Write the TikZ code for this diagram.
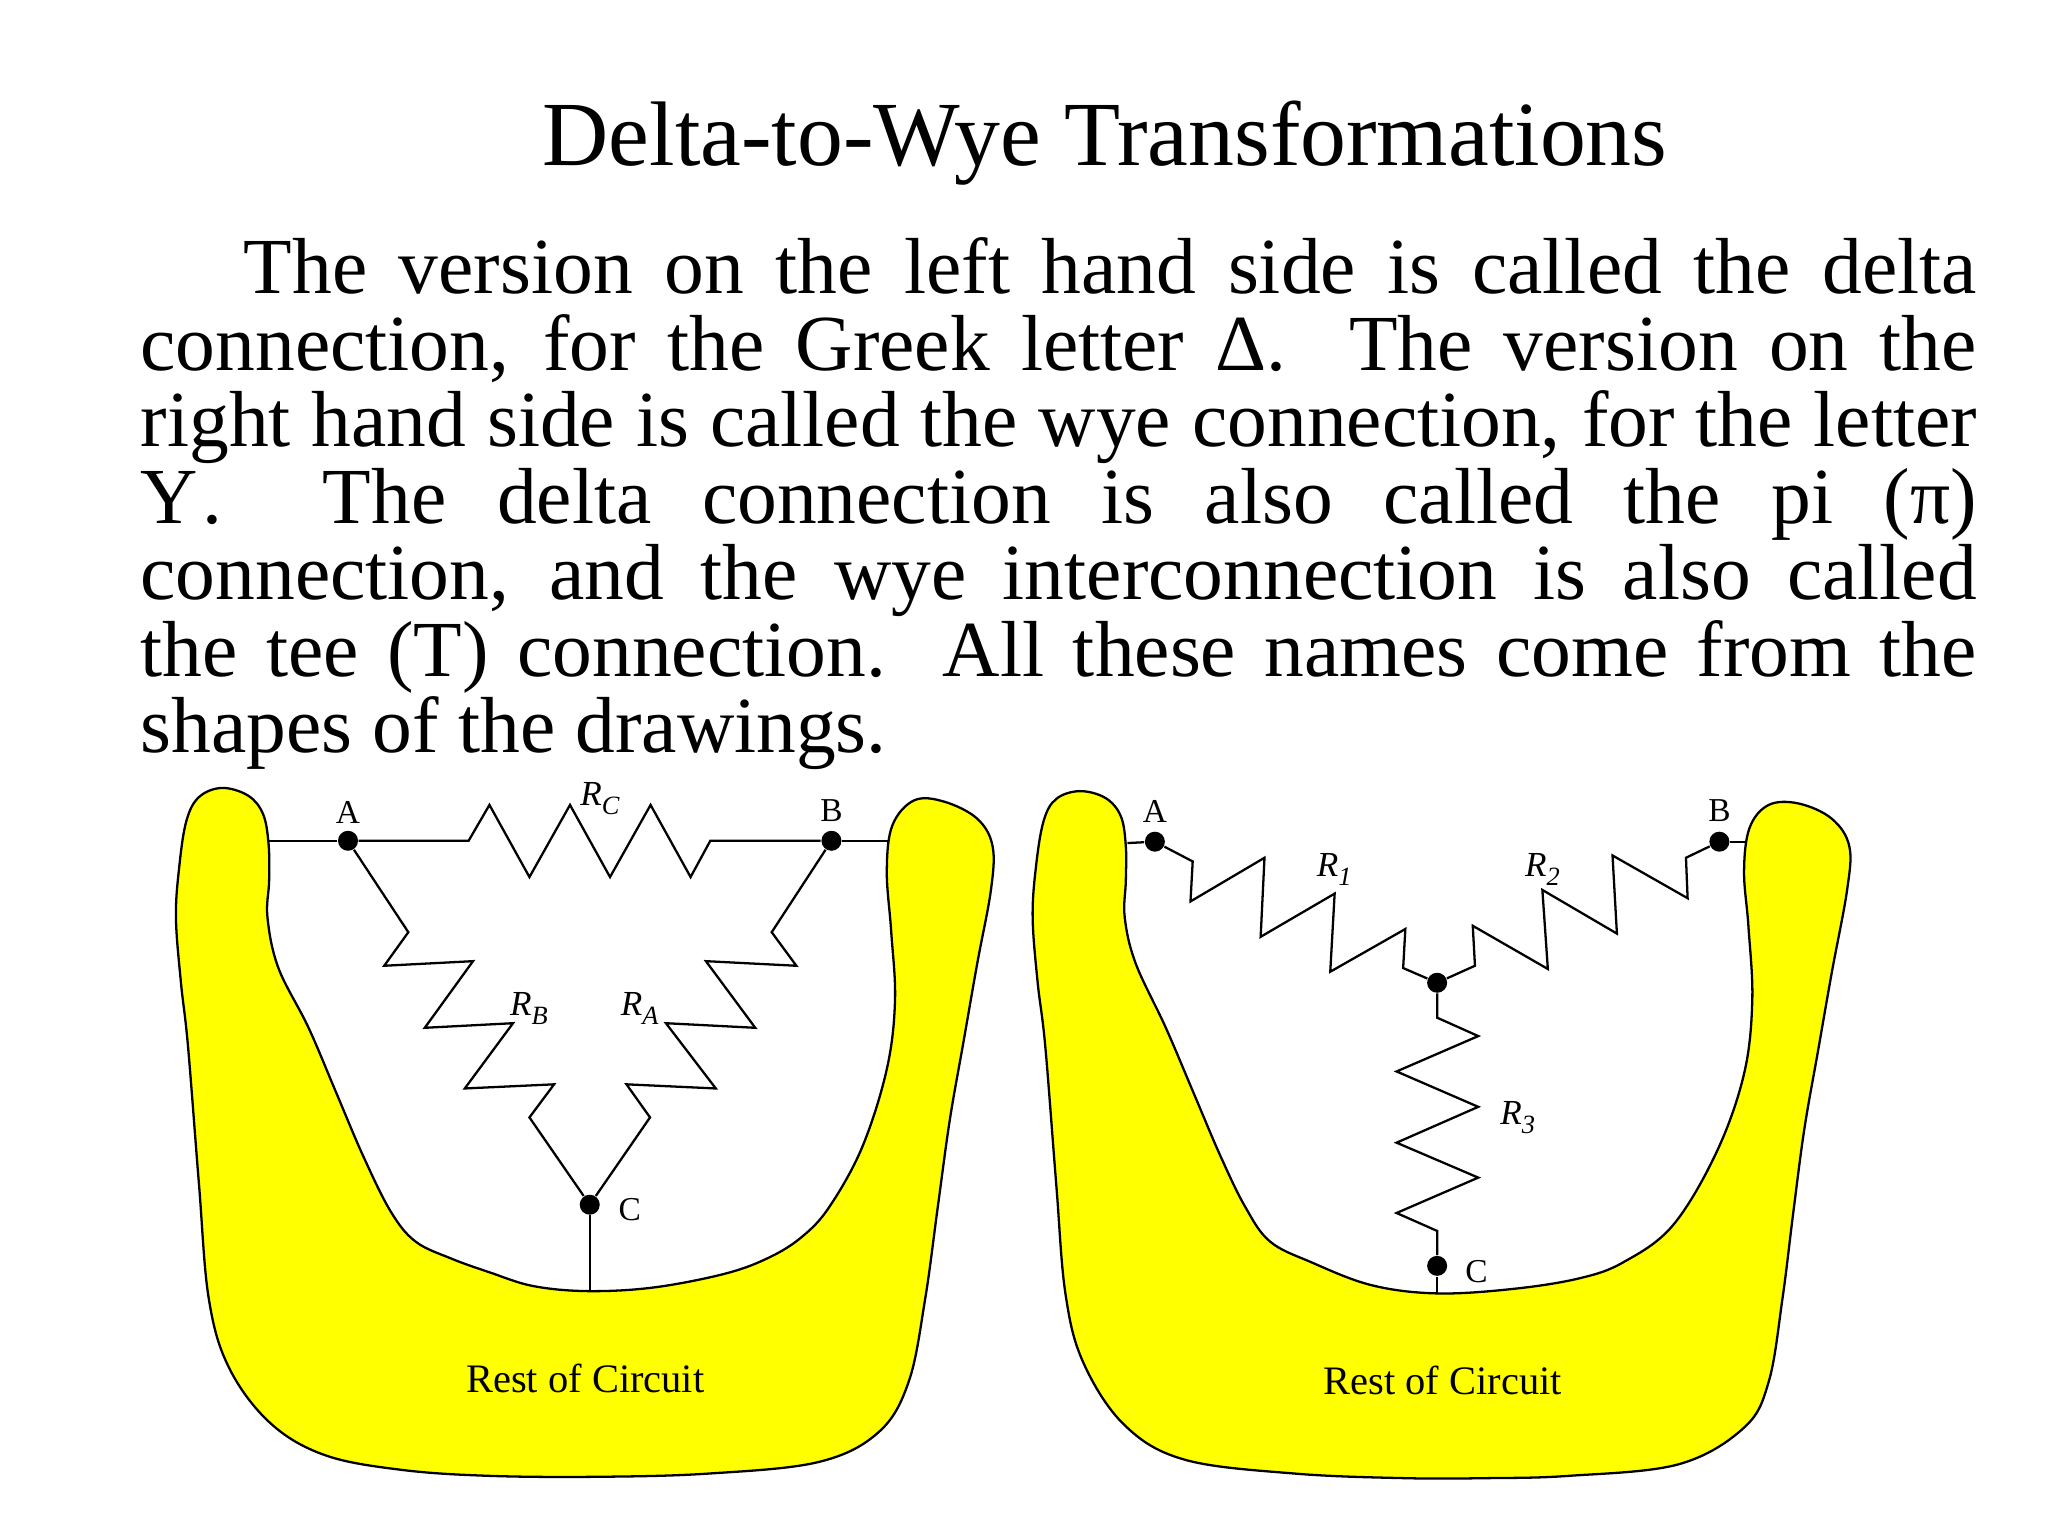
\documentclass[tikz,border=0pt]{standalone}
\usepackage{fontspec}
\setmainfont{Liberation Serif}
\definecolor{blobyellow}{RGB}{255,255,0}
\newcommand{\resname}[1]{\textit{R}\raisebox{-0.55ex}{\fontsize{7.5}{8}\selectfont\textit{#1}}}
\begin{document}
\begin{tikzpicture}
[x=0.01cm,y=-0.01cm,
  nodedecorate/.style={shape=circle,fill=black,inner sep=0pt,minimum size=0.2cm},%
  linedecorate/.style={-,line width=0.65pt,line join=miter},%
  blobdecorate/.style={draw=black,fill=blobyellow,line width=0.65pt},%
  termdecorate/.style={inner sep=0pt,font=\fontsize{9.5}{10}\selectfont},%
  resdecorate/.style={inner sep=0pt,font=\fontsize{10}{11}\selectfont},%
  restdecorate/.style={inner sep=0pt,font=\fontsize{11.5}{12}\selectfont},%
  panel/.style={x=0.005478cm,y=-0.00459cm}]
\useasboundingbox (0,0) rectangle (2048,1536);
%% title and text
\node (title) at (1105,165) [anchor=base,inner sep=0pt,font=\fontsize{26.08}{28}\selectfont]
  {Delta-to-Wye Transformations};
\node (body) at (140,237) [anchor=north west,inner sep=0pt,text width=18.35cm,align=justify,
  font=\fontsize{22.6}{21.75}\selectfont]
  {\hspace*{1.03cm}The version on the left hand side is called the delta\linebreak
  connection, for the Greek letter Δ.\ \ The version on the\linebreak
  right hand side is called the wye connection, for the letter\linebreak
  Y\kern.05em.\ \ The delta connection is also called the pi (π)\linebreak
  connection, and the wye interconnection is also called\linebreak
  the tee (T) connection.\ \ All these names come from the\linebreak
  shapes of the drawings.};
%% delta side
\begin{scope}[shift={(1.605cm,-7.7cm)},panel]
\draw[blobdecorate] plot[smooth cycle,tension=0.6] coordinates {
  (28,320) (34,210) (47,110) (70,58) (112,38) (160,55) (187,95) (197,160)
  (198,240) (195,320) (215,430) (270,560) (320,700) (370,840) (420,960)
  (465,1025) (530,1062) (600,1092) (680,1122) (780,1133) (900,1125) (1030,1095)
  (1110,1060) (1170,1015) (1220,950) (1280,820) (1325,650) (1340,500) (1333,350)
  (1325,220) (1335,120) (1375,65) (1430,68) (1490,105) (1518,165) (1515,260)
  (1490,420) (1465,590) (1440,760) (1418,950) (1395,1150) (1365,1330) (1310,1440)
  (1200,1505) (1000,1530) (800,1537) (600,1535) (440,1522) (300,1490) (200,1420)
  (125,1300) (88,1150) (70,900) (50,600) (37,460)};
%% nodes or vertices
\foreach \nodename/\x/\y in {dA/342/153, dB/1224/153, dC/783/945}
{
  \node (\nodename) at (\x,\y) [nodedecorate] {};
}
\foreach \nodename/\x/\y in {dportA/198/153, dportB/1328/153, dportC/783/1133}
{
  \coordinate (\nodename) at (\x,\y);
}
%% edges or lines
\path
\foreach \startnode/\endnode in {dportA/dA, dB/dportB, dC/dportC} {
  (\startnode) edge[linedecorate] (\endnode)
};
\draw[linedecorate] (dA) -- (562,153) -- (600,75) -- (673,232) -- (747,75) -- (820,232)
  -- (894,75) -- (967,232) -- (1003,153) -- (dB);
\draw[linedecorate] (dA) -- (452,352) -- (408,425) -- (570,415) -- (482,560) -- (643,550)
  -- (555,692) -- (718,683) -- (673,755) -- (dC);
\draw[linedecorate] (dB) -- (1115,352) -- (1160,425) -- (995,415) -- (1085,560) -- (922,550)
  -- (1013,692) -- (850,683) -- (893,755) -- (dC);
%% labels
\foreach \nodename/\x/\y/\txt in {dlabA/342/92/A, dlabB/1224/88/B, dlabC/856/955/C}
{
  \node (\nodename) at (\x,\y) [termdecorate] {\txt};
}
\foreach \nodename/\x/\y/\txt in {dresC/802/62/C, dresB/672/518/B, dresA/874/518/A}
{
  \node (\nodename) at (\x,\y) [resdecorate] {\resname{\txt}};
}
\node (drest) at (775,1322) [restdecorate] {Rest of Circuit};
\end{scope}
%% wye side
\begin{scope}[shift={(10.2cm,-7.7cm)},panel]
\draw[blobdecorate] plot[smooth cycle,tension=0.6] coordinates {
  (22,320) (28,210) (42,110) (65,62) (108,45) (155,60) (183,100) (192,165)
  (192,240) (190,320) (210,420) (265,560) (315,700) (365,840) (410,950)
  (455,1025) (530,1070) (640,1120) (760,1138) (900,1128) (1020,1105) (1100,1070)
  (1190,990) (1270,830) (1320,660) (1335,500) (1328,340) (1320,220) (1330,125)
  (1365,75) (1420,72) (1480,105) (1512,165) (1508,260) (1480,440) (1455,610)
  (1430,780) (1410,960) (1390,1150) (1365,1330) (1320,1430) (1200,1510) (1000,1535)
  (850,1540) (700,1540) (500,1530) (300,1500) (190,1425) (115,1290) (82,1140)
  (65,900) (45,600) (31,460)};
%% nodes or vertices
\foreach \nodename/\x/\y in {wA/245/155, wB/1275/155, wJ/760/462, wC/760/1078}
{
  \node (\nodename) at (\x,\y) [nodedecorate] {};
}
\foreach \nodename/\x/\y in {wportA/195/158, wportB/1325/155, wportC/760/1138}
{
  \coordinate (\nodename) at (\x,\y);
}
%% edges or lines
\path
\foreach \startnode/\endnode in {wportA/wA, wB/wportB, wC/wportC} {
  (\startnode) edge[linedecorate] (\endnode)
};
\draw[linedecorate] (wA) -- (314,198) -- (310,285) -- (445,190) -- (438,362) -- (573,268)
  -- (565,438) -- (702,345) -- (698,430) -- (wJ);
\draw[linedecorate] (wB) -- (1214,190) -- (1217,278) -- (1080,185) -- (1088,355) -- (952,260)
  -- (962,432) -- (825,338) -- (829,425) -- (wJ);
\draw[linedecorate] (wJ) -- (760,538) -- (835,578) -- (686,655) -- (835,732) -- (686,810)
  -- (835,886) -- (686,963) -- (760,1002) -- (wC);
%% labels
\foreach \nodename/\x/\y/\txt in {wlabA/245/90/A, wlabB/1275/88/B, wlabC/832/1090/C}
{
  \node (\nodename) at (\x,\y) [termdecorate] {\txt};
}
\foreach \nodename/\x/\y/\txt in {wres1/572/215/1, wres2/952/215/2, wres3/907/755/3}
{
  \node (\nodename) at (\x,\y) [resdecorate] {\resname{\txt}};
}
\node (wrest) at (770,1328) [restdecorate] {Rest of Circuit};
\end{scope}
\end{tikzpicture}
\end{document}
